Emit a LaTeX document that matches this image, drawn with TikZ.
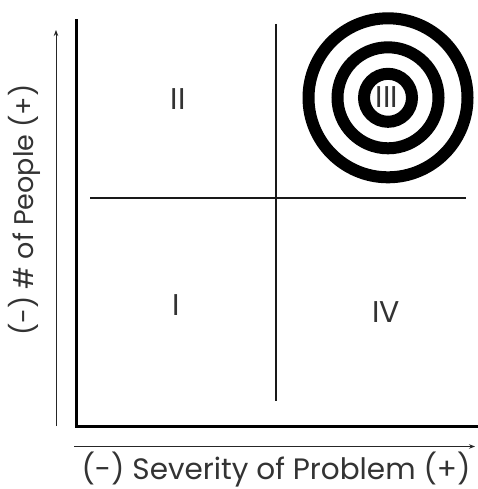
\documentclass[tikz,border=0pt]{standalone}
\usepackage{fontspec}
\setmainfont{Poppins}
\usetikzlibrary{arrows.meta}
\tikzset{lab/.style={font=\fontsize{30}{34}\selectfont,text=black!80,inner sep=0pt},
ring/.style={draw=black,line width=12pt,fill=none},
thinline/.style={draw=black!90,line width=1.4pt},
arr/.style={draw=black!85,line width=0.9pt,-{Stealth[length=6pt,width=4.5pt]}}}
\begin{document}
\begin{tikzpicture}[x=1pt,y=-1pt]
\useasboundingbox (0,0) rectangle (477,489);
\fill[white] (0,0) rectangle (477,489);
\coordinate (o) at (76,426);
\coordinate (t) at (76,21);
\coordinate (r) at (477,426);
\draw[line width=3pt,line cap=rect] (t) -- (o) -- (r);
\coordinate (v1) at (276,24); \coordinate (v2) at (276,401);
\coordinate (h1) at (90,198); \coordinate (h2) at (466,198);
\draw[thinline] (v1) -- (v2);
\draw[thinline] (h1) -- (h2);
\coordinate (a1) at (56,426); \coordinate (a2) at (56,30);
\coordinate (b1) at (74,446.5); \coordinate (b2) at (475,446.5);
\draw[arr] (a1) -- (a2);
\draw[arr] (b1) -- (b2);
\coordinate (c) at (388,97.8);
\draw[ring] (c) circle (79.5);
\draw[ring] (c) circle (50.5);
\draw[ring] (c) circle (24);
\node[lab] (n2) at (178,99) {II};
\node[lab] (n3) at (387,97) {III};
\node[lab] (n1) at (176,305) {I};
\node[lab] (n4) at (386,312) {IV};
\node[lab,font=\fontsize{27}{31}\selectfont,rotate=90] (yl) at (24,210) {(-) \# of People (+)};
\node[lab,font=\fontsize{29.5}{33}\selectfont] (xl) at (276,470) {(-) Severity of Problem (+)};
\end{tikzpicture}
\end{document}
